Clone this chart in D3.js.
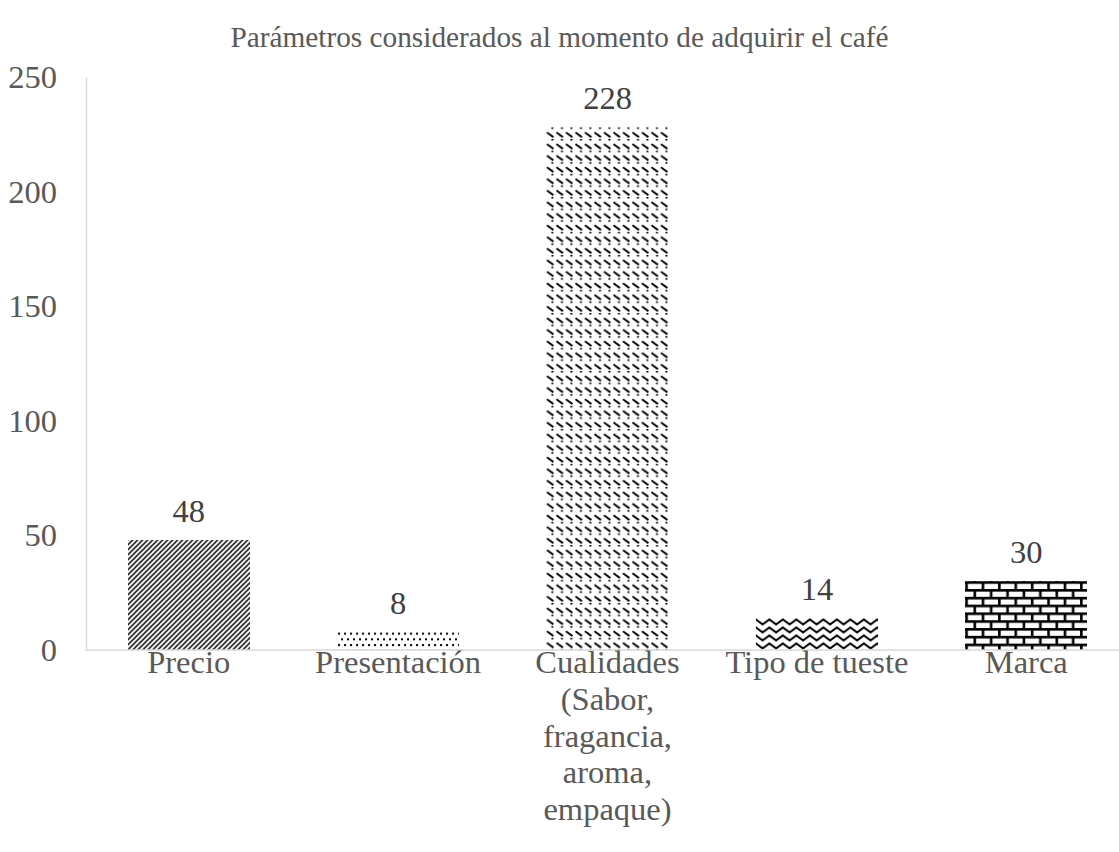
<!DOCTYPE html>
<html>
<head>
<meta charset="utf-8">
<script src="https://cdn.jsdelivr.net/npm/d3@7"></script>
<style>
  body { margin: 0; background: #fff; }
  svg text { font-family: "Liberation Serif", "Times New Roman", Tinos, serif; }
</style>
</head>
<body>
<div class="chart"></div>
<script>
// data
const categories = ["Precio", "Presentación", "Cualidades (Sabor, fragancia, aroma, empaque)", "Tipo de tueste", "Marca"];
const values = [48, 8, 228, 14, 30];
const patterns = ["diag", "dots", "dashdiag", "zigzag", "brick"];
const yTicks = [0, 50, 100, 150, 200, 250];
const title = "Parámetros considerados al momento de adquirir el café";

let width = 1119, height = 852;
let svg = d3.select(".chart").append("svg")
    .attr("width", width)
    .attr("height", height);

let margin = {top: 77, left: 86, bottom: 202};
let baseY = height - margin.bottom;

let xScale = d3.scaleBand()
    .domain(categories)
    .range([84, 1131])
    .paddingInner(0.417)
    .paddingOuter(0.2085);

let yScale = d3.scaleLinear()
    .domain([0, 250])
    .range([baseY, margin.top]);

//patterns
let defs = svg.append("defs");
function makePattern(id, w, h, x0, y0) {
    let p = defs.append("pattern")
        .attr("id", id)
        .attr("patternUnits", "userSpaceOnUse")
        .attr("x", x0).attr("y", y0)
        .attr("width", w).attr("height", h);
    p.append("rect").attr("width", w).attr("height", h).attr("fill", "#fff");
    return p;
}

categories.forEach(function(c, i) {
    let x0 = xScale(c), y0 = yScale(values[i]);
    let id = "pat" + i;
    let p;
    if (patterns[i] == "diag") {
        p = makePattern(id, 5, 5, x0, y0);
        p.append("path").attr("d", "M-1,6 L6,-1 M-1,1 L1,-1 M4,6 L6,4")
            .attr("stroke", "#000").attr("stroke-width", 1.5);
    } else if (patterns[i] == "dots") {
        p = makePattern(id, 6, 11.4, x0, y0);
        p.append("rect").attr("x", 1).attr("y", 1).attr("width", 2).attr("height", 2).attr("fill", "#000");
        p.append("rect").attr("x", 4).attr("y", 6.7).attr("width", 2).attr("height", 2).attr("fill", "#000");
    } else if (patterns[i] == "dashdiag") {
        p = makePattern(id, 9.5, 11.6, x0, y0);
        p.append("path").attr("d", "M0.5,5 L7,9.8")
            .attr("stroke", "#000").attr("stroke-width", 1.9);
        p.append("rect").attr("x", 5).attr("y", 0).attr("width", 2).attr("height", 1.5).attr("fill", "#000");
    } else if (patterns[i] == "zigzag") {
        p = makePattern(id, 13.5, 8, x0, y0);
        p.append("path").attr("d", "M-3.4,4.5 L0,1.5 L6.75,6.5 L13.5,1.5 L16.9,4.5")
            .attr("fill", "none").attr("stroke", "#000").attr("stroke-width", 2);
    } else {
        p = makePattern(id, 16.4, 15.6, x0, y0);
        p.append("rect").attr("x", 0).attr("y", 0).attr("width", 16.4).attr("height", 2.6).attr("fill", "#000");
        p.append("rect").attr("x", 0).attr("y", 7.8).attr("width", 16.4).attr("height", 2.6).attr("fill", "#000");
        p.append("rect").attr("x", 0).attr("y", 0).attr("width", 2.6).attr("height", 7.8).attr("fill", "#000");
        p.append("rect").attr("x", 8.2).attr("y", 7.8).attr("width", 2.6).attr("height", 7.8).attr("fill", "#000");
    }
});

//title
svg.append("text")
    .attr("x", width / 2)
    .attr("y", 47)
    .attr("text-anchor", "middle")
    .attr("fill", "#595959")
    .style("font-size", "29.3px")
    .text(title);

//y axis
let yAxis = svg.append("g")
    .attr("transform", "translate(" + margin.left + ",0)")
    .call(d3.axisLeft(yScale).tickValues(yTicks).tickSize(0).tickPadding(29));
yAxis.attr("font-family", null);
yAxis.select(".domain").attr("stroke", "#d9d9d9").attr("stroke-width", 1.5);
yAxis.selectAll("text")
    .attr("fill", "#595959")
    .style("font-size", "32.5px");

//bars
svg.append("g").selectAll("rect")
    .data(categories)
    .enter().append("rect")
    .attr("x", function(d) { return xScale(d); })
    .attr("y", function(d, i) { return yScale(values[i]); })
    .attr("width", xScale.bandwidth())
    .attr("height", function(d, i) { return baseY - yScale(values[i]); })
    .attr("fill", function(d, i) { return "url(#pat" + i + ")"; })
    .attr("shape-rendering", "crispEdges");

//x baseline
svg.append("line")
    .attr("x1", margin.left).attr("x2", width)
    .attr("y1", baseY).attr("y2", baseY)
    .attr("stroke", "#d9d9d9").attr("stroke-width", 1.5);

//value labels
svg.append("g").selectAll("text")
    .data(categories)
    .enter().append("text")
    .attr("x", function(d) { return xScale(d) + xScale.bandwidth() / 2; })
    .attr("y", function(d, i) { return yScale(values[i]) - 18; })
    .attr("text-anchor", "middle")
    .attr("fill", "#404040")
    .style("font-size", "32.5px")
    .text(function(d, i) { return values[i]; });

//category labels, wrapped to the band
let maxW = xScale.step() * 0.97;
categories.forEach(function(c) {
    let t = svg.append("text")
        .attr("x", xScale(c) + xScale.bandwidth() / 2)
        .attr("y", baseY + 12)
        .attr("text-anchor", "middle")
        .attr("fill", "#595959")
        .style("font-size", "32.5px");
    let words = c.split(" ");
    let line = [];
    let tspan = t.append("tspan").attr("x", t.attr("x")).attr("dy", "0.35em");
    words.forEach(function(w) {
        line.push(w);
        tspan.text(line.join(" "));
        if (tspan.node().getComputedTextLength() > maxW && line.length > 1) {
            line.pop();
            tspan.text(line.join(" "));
            line = [w];
            tspan = t.append("tspan").attr("x", t.attr("x")).attr("dy", "36.7px").text(w);
        }
    });
});
</script>
</body>
</html>
